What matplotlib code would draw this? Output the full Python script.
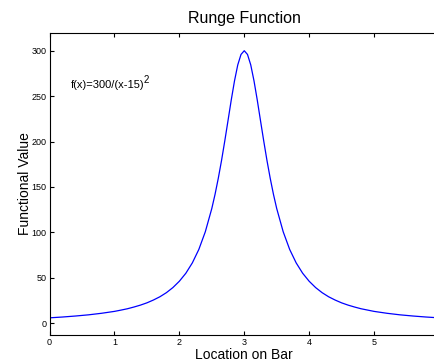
import numpy as np
import matplotlib
matplotlib.use('Agg')
import matplotlib.pyplot as plt

plt.rcParams['font.family'] = ['Liberation Sans', 'DejaVu Sans']
plt.rcParams['mathtext.default'] = 'regular'

# values
x = [0.0, 0.2, 0.4, 0.6, 0.8, 1.0, 1.1, 1.2, 1.3, 1.4, 1.5, 1.6, 1.7, 1.8, 1.9,
     2.0, 2.1, 2.2, 2.3, 2.4, 2.5, 2.55, 2.6, 2.65, 2.7, 2.75, 2.8, 2.85, 2.9, 2.95, 3.0,
     3.05, 3.1, 3.15, 3.2, 3.25, 3.3, 3.35, 3.4, 3.45, 3.5, 3.6, 3.7, 3.8, 3.9, 4.0,
     4.1, 4.2, 4.3, 4.4, 4.5, 4.6, 4.7, 4.8, 5.0, 5.2, 5.4, 5.6, 5.8, 6.0]
y = [5.9, 6.8, 7.9, 9.2, 10.9, 13.0, 14.4, 15.9, 17.8, 19.9, 22.4, 25.5, 29.1, 33.6, 39.2,
     46.2, 55.0, 66.4, 81.2, 100.7, 126.3, 141.9, 159.6, 179.2, 200.7, 223.2, 245.9, 266.9, 284.4, 295.9, 300.0,
     295.9, 284.4, 266.9, 245.9, 223.2, 200.7, 179.2, 159.6, 141.9, 126.3, 100.7, 81.2, 66.4, 55.0, 46.2,
     39.2, 33.6, 29.1, 25.5, 22.4, 19.9, 17.8, 15.9, 13.0, 10.9, 9.2, 7.9, 6.8, 5.9]

fig = plt.figure(figsize=(4.35, 3.62), dpi=100)
ax = fig.add_axes([0.114, 0.0746, 1.009 - 0.114, 0.9088 - 0.0746])

ax.plot(x, y, color='#0000ff', linewidth=0.9)
ax.set_xlim(0, 6)
ax.set_ylim(-13, 319.5)
ax.set_xticks([0, 1, 2, 3, 4, 5])
ax.set_yticks([0, 50, 100, 150, 200, 250, 300])
ax.tick_params(direction='in', length=3, labelsize=6.5, top=True, right=True, pad=2)

ax.set_title('Runge Function', fontsize=11.5, pad=7)
ax.set_xlabel('Location on Bar', fontsize=10, labelpad=1)
ax.set_ylabel('Functional Value', fontsize=10, labelpad=0)
ax.text(0.33, 259, 'f(x)=300/(x-15)', fontsize=8)
ax.text(1.455, 265, '2', fontsize=7)

fig.savefig('out.png', dpi=100)
